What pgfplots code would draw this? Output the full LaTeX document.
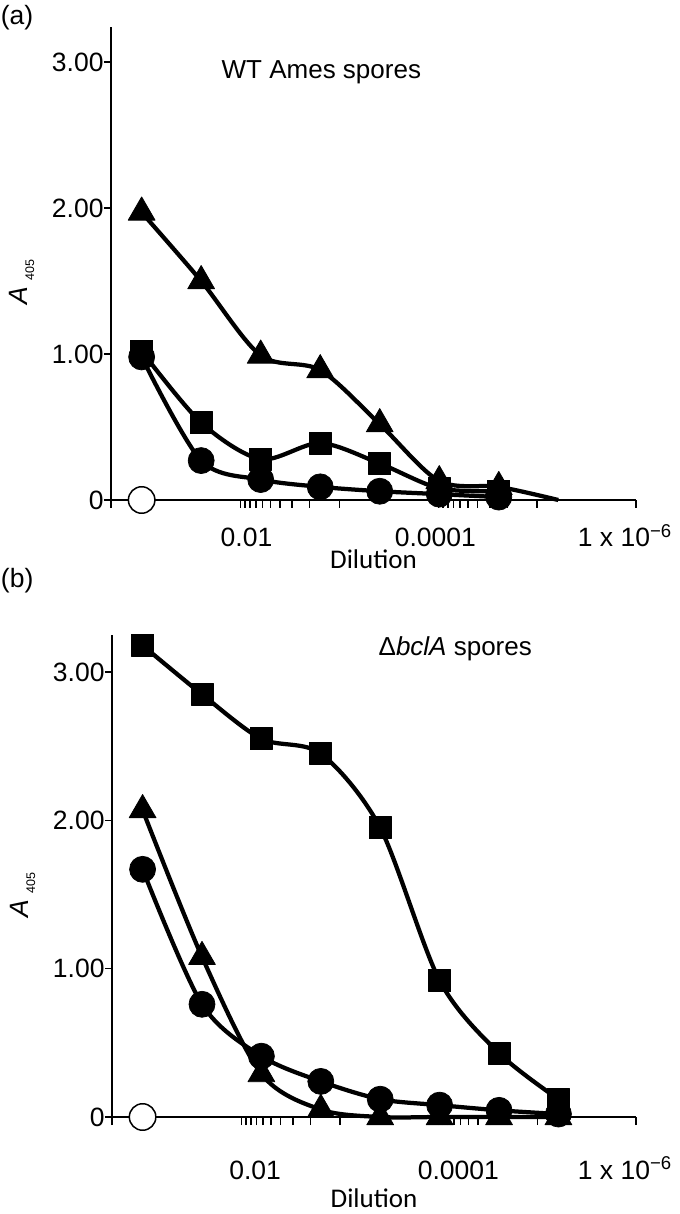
\documentclass[border=0pt]{standalone}
\usepackage{pgfplots}
\usepackage{pgfplotstable}
\pgfplotsset{compat=1.18}
\usepackage{fontspec}
\setmainfont{Liberation Sans}
\newfontfamily\calib{Carlito}

\pgfplotstableread{
x tri sq circ
1.000 1.97 1.02 0.98
1.602 1.50 0.53 0.27
2.204 0.99 0.28 0.14
2.806 0.89 0.39 0.09
3.408 0.52 0.25 0.06
4.010 0.13 0.08 0.04
4.612 0.09 0.06 0.02
5.214 0.00 nan  nan
}\dataA

\pgfplotstableread{
x tri sq circ
1.000 2.07 3.18 1.67
1.602 1.08 2.85 0.76
2.204 0.29 2.55 0.41
2.806 0.05 2.45 0.24
3.408 0.00 1.95 0.12
4.010 0.00 0.92 0.08
4.612 0.00 0.43 0.045
5.214 0.00 0.12 0.02
}\dataB

\pgfplotsset{
  panel/.style={
    scale only axis, clip=false,
    axis lines=left, axis line style={-, line width=0.6pt},
    xmin=0.69, xmax=6, ymin=0,
    tick align=outside,
    every tick/.style={black, line width=0.6pt},
    ytick={0,1,2,3}, yticklabels={0,1.00,2.00,3.00},
    xticklabels={0.01,0.0001,1 x 10\textsuperscript{−6}},
    major x tick style={draw=none},
    minor xtick={0.69,2,2.046,2.097,2.155,2.222,2.301,2.398,2.523,2.699,3,4,4.046,4.097,4.155,4.222,4.301,4.398,4.523,4.699,5,6},
    major tick length=2.8pt, minor tick length=3.2pt,
    ticklabel style={font=\fontsize{10.6}{12}\selectfont},
    yticklabel style={anchor=east, inner sep=0pt},
    xticklabel style={anchor=base, inner sep=0pt},
    ylabel={\textit{A}\hspace{2.5pt}\raisebox{-2.6pt}{\fontsize{5}{6}\selectfont 405}},
    ylabel style={at={(axis description cs:-0.17,0.46)}, anchor=center, font=\fontsize{10.6}{12}\selectfont},
    xlabel={\calib Dilution},
    every axis plot/.append style={black, line width=1.7pt, line join=round, smooth, tension=0.5},
  },
  tri/.style={mark=triangle*, mark size=6.2pt, mark options={solid, line width=0.3pt}},
  sq/.style={mark=square*, mark size=4.4pt, mark options={solid, line width=0.3pt}},
  circ/.style={mark=*, mark size=5.2pt, mark options={solid, line width=0.3pt}},
  opencirc/.style={only marks, mark=*, mark size=5.3pt, mark options={fill=white, draw=black, line width=0.6pt}},
}

\begin{document}
\begin{tikzpicture}
\useasboundingbox (0,0) rectangle (271.6pt,485.6pt);

\begin{axis}[panel,
  at={(44.4pt,285.6pt)}, anchor=south west,
  width=210pt, height=189.2pt, ymax=3.24,
  xtick={2.06,3.97,5.89},
  xticklabel style={yshift=-16pt},
  xlabel style={at={(axis description cs:0.5,0)}, anchor=base, yshift=-27.6pt, font=\fontsize{10.8}{12}\selectfont},
]
\addplot[circ] table[x=x, y=circ] {\dataA};
\addplot[sq] table[x=x, y=sq] {\dataA};
\addplot[tri, mark indices={1,2,3,4,5,6,7}] table[x=x, y=tri] {\dataA};
\addplot[opencirc] coordinates {(1,0)};
\node[anchor=base west, font=\fontsize{10.4}{12}\selectfont] at (rel axis cs:0.194,0.892) {WT Ames spores};
\node[font=\fontsize{10.6}{12}\selectfont] at (rel axis cs:-0.179,1.019) {(a)};
\end{axis}

\begin{axis}[panel,
  at={(44.8pt,38.8pt)}, anchor=south west,
  width=209.6pt, height=192.8pt, ymax=3.25,
  xtick={2.14,4.2,5.89},
  xticklabel style={yshift=-22pt},
  xlabel style={at={(axis description cs:0.5,0)}, anchor=base, yshift=-36pt, font=\fontsize{10.8}{12}\selectfont},
]
\addplot[sq] table[x=x, y=sq] {\dataB};
\addplot[tri] table[x=x, y=tri] {\dataB};
\addplot[circ] table[x=x, y=circ] {\dataB};
\addplot[opencirc] coordinates {(1,0)};
\node[anchor=base west, font=\fontsize{10.4}{12}\selectfont] at (rel axis cs:0.492,0.958) {Δ\textit{bclA} spores};
\node[font=\fontsize{10.6}{12}\selectfont] at (rel axis cs:-0.181,1.112) {(b)};
\end{axis}
\end{tikzpicture}
\end{document}
